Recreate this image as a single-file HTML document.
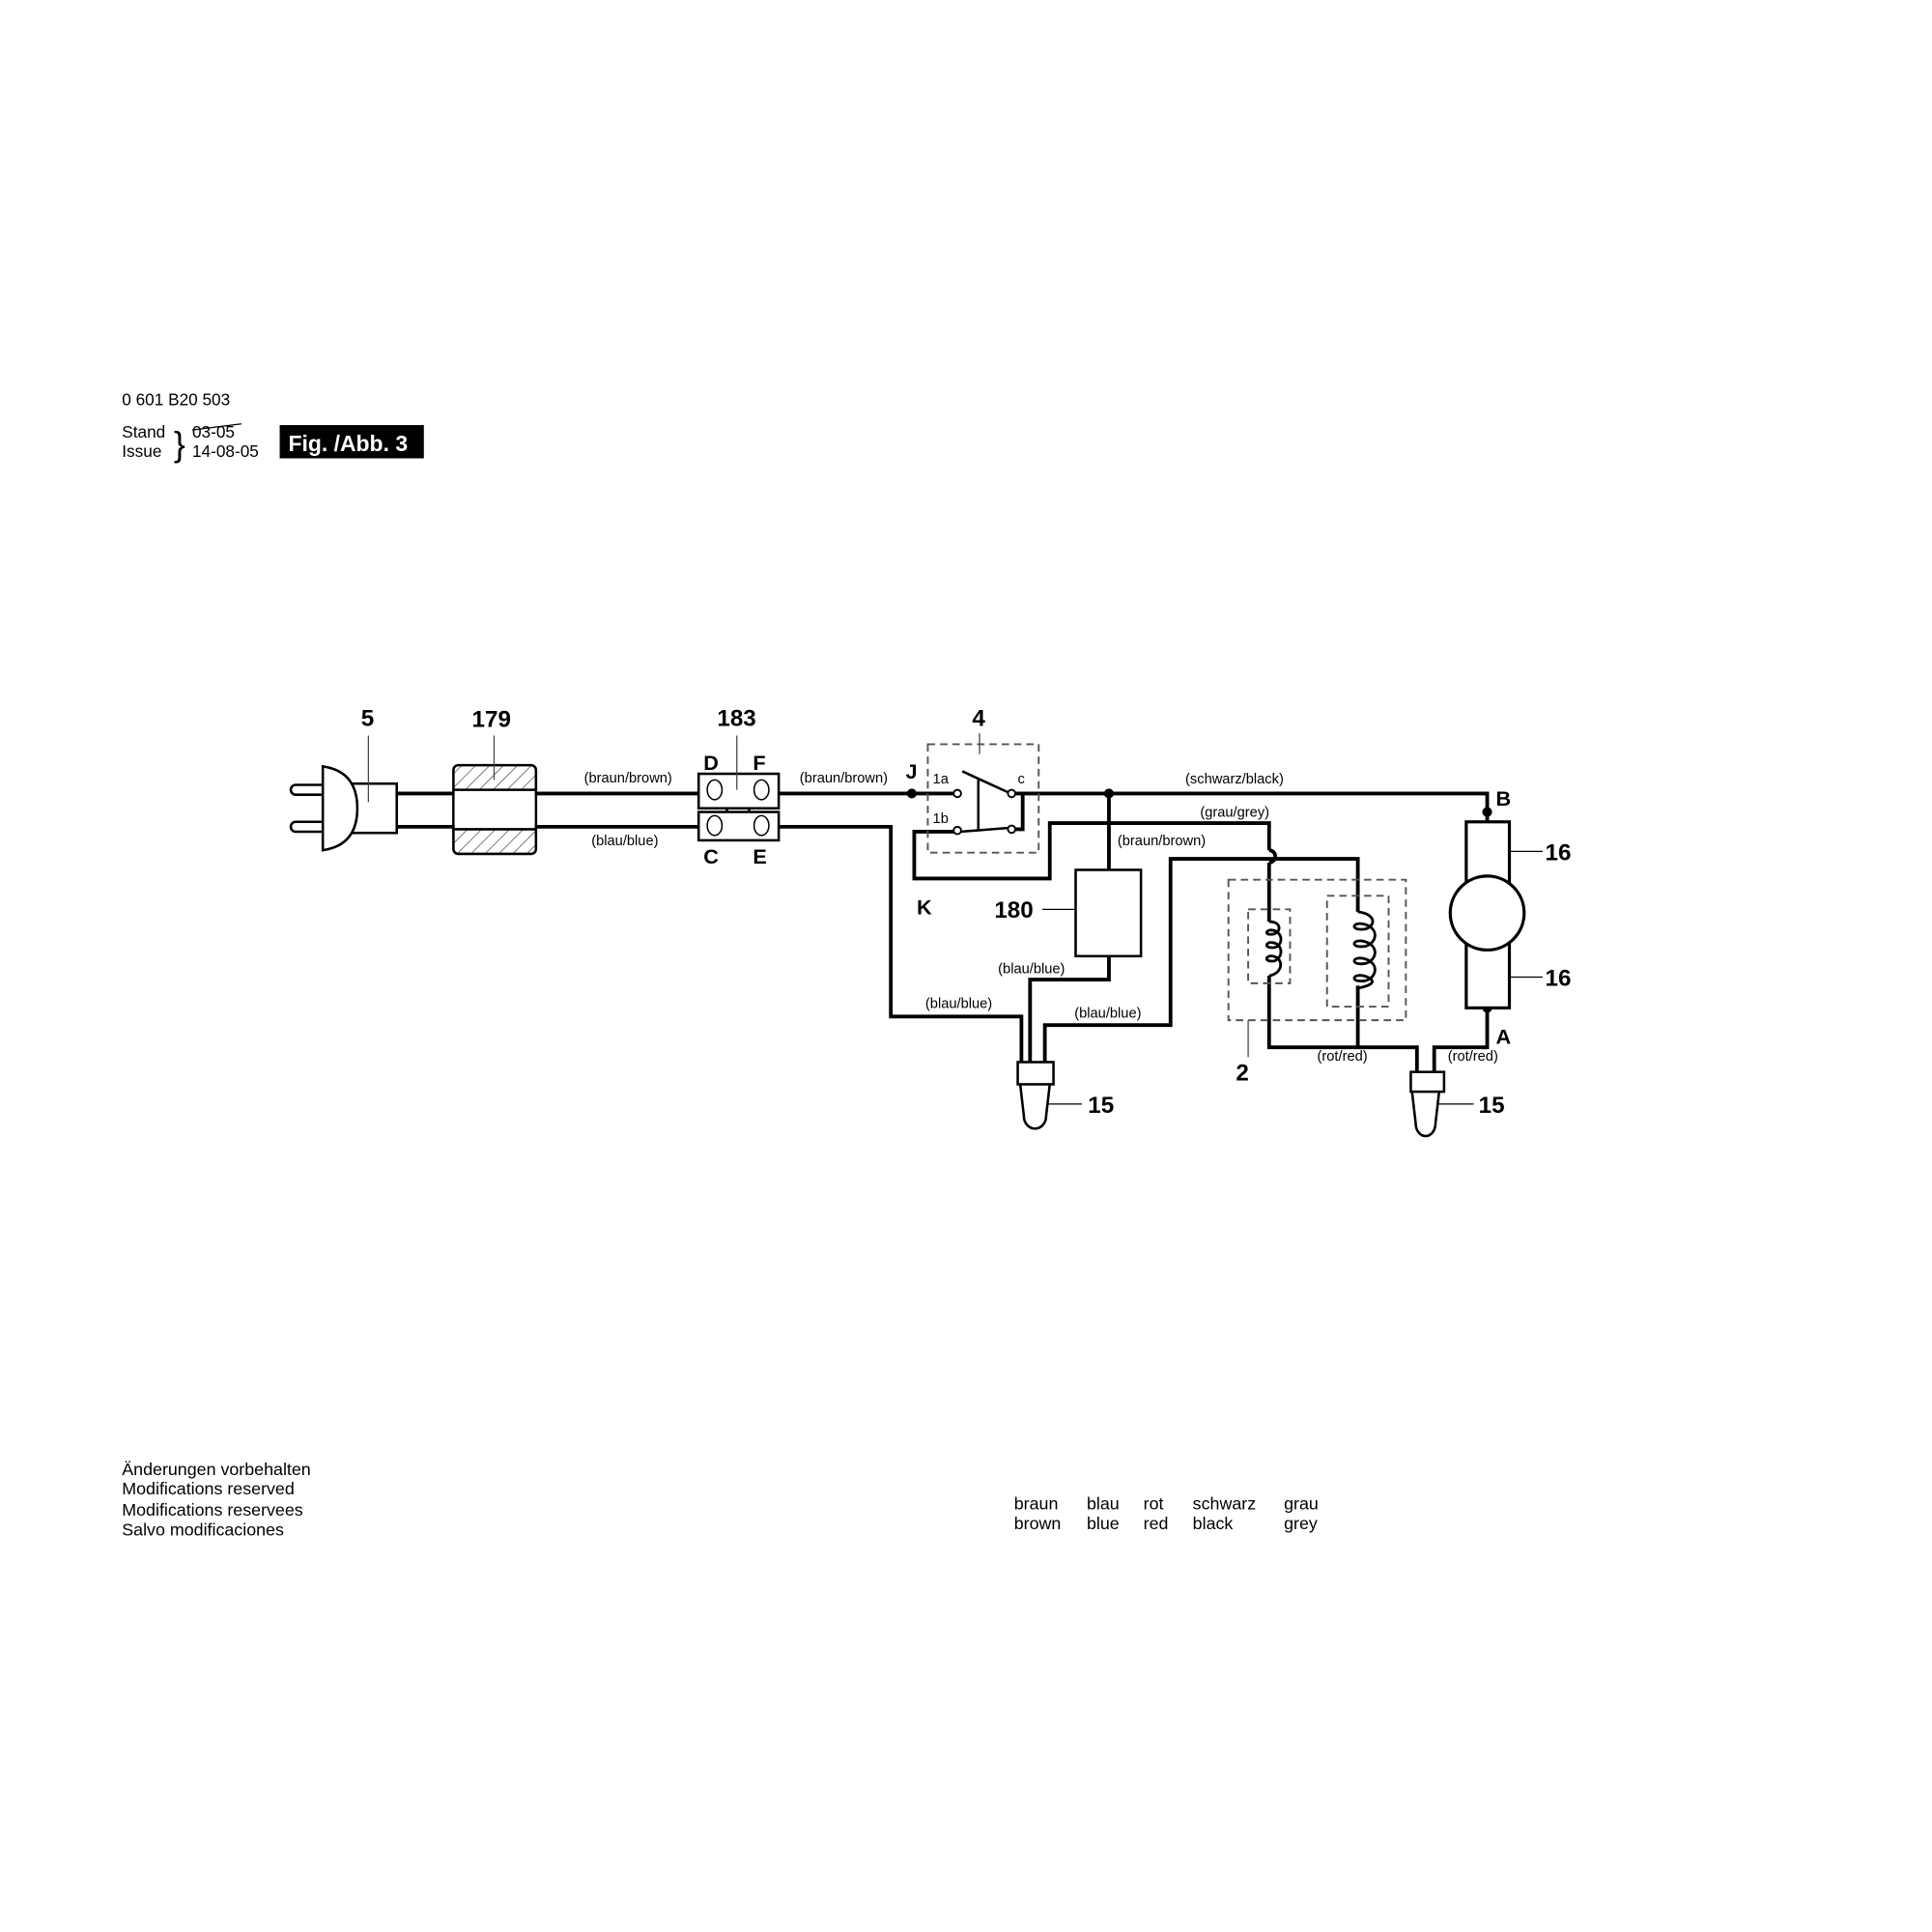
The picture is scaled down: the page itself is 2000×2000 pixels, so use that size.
<!DOCTYPE html>
<html><head><meta charset="utf-8"><style>
html,body{margin:0;padding:0;background:#fff}
svg{display:block}
text{font-family:"Liberation Sans",sans-serif;fill:#000}
</style></head><body>
<svg width="2000" height="2000" viewBox="0 0 1568 1568" xmlns="http://www.w3.org/2000/svg">
<defs>
<pattern id="h" width="8" height="8" patternUnits="userSpaceOnUse" patternTransform="rotate(45)">
<line x1="0" y1="0" x2="0" y2="8" stroke="#333" stroke-width="1"/>
</pattern>
</defs>
<!-- header -->
<text x="99" y="329" font-size="13.5">0 601 B20 503</text>
<text x="99" y="355" font-size="13.5">Stand</text>
<text x="99" y="371" font-size="13.5">Issue</text>
<text x="141" y="370" font-size="28">}</text>
<text x="156" y="355" font-size="13.5">03-05</text>
<line x1="156" y1="349" x2="196" y2="344" stroke="#000" stroke-width="1"/>
<text x="156" y="371" font-size="13.5">14-08-05</text>
<rect x="227" y="345" width="117" height="27" fill="#000"/>
<text x="234" y="366" font-size="18" font-weight="bold" style="fill:#fff">Fig. /Abb. 3</text>

<g fill="none" stroke="#000" stroke-width="3">
<polyline points="322,644 567,644"/>
<polyline points="322,671 567,671"/>
<polyline points="632,644 776,644"/>
<polyline points="632,671 723,671 723,825 829,825 829,862"/>
<polyline points="820,644 1207,644 1207,667"/>
<polyline points="820,673 830,673 830,644"/>
<polyline points="776,675 742,675 742,713 852,713 852,668 1030,668 1030,690"/>
<path d="M1030,690 a5,5 0 0 1 0,10"/>
<polyline points="1030,700 1030,748"/>
<polyline points="900,644 900,706"/>
<polyline points="900,776 900,795 836,795 836,862"/>
<polyline points="848,862 848,832 950,832 950,697 1102,697 1102,740"/>
<polyline points="1030,792 1030,850 1150,850 1150,870"/>
<polyline points="1102,800 1102,850"/>
<polyline points="1164,870 1164,850 1207,850 1207,818"/>
</g>
<!-- plug -->
<g fill="#fff" stroke="#000" stroke-width="2">
<path d="M262,637 L240,637 a4,4 0 0 0 0,8 L262,645"/>
<path d="M262,667 L240,667 a4,4 0 0 0 0,8 L262,675"/>
<rect x="285" y="636" width="37" height="40"/>
<path d="M262,622 Q290,626 290,656 Q290,686 262,690 Z"/>
<rect x="368" y="621" width="67" height="72" rx="4" fill="url(#h)"/>
<rect x="369" y="641" width="65" height="32" stroke="none"/>
<line x1="368" y1="641" x2="435" y2="641"/>
<line x1="368" y1="673" x2="435" y2="673"/>
<rect x="590" y="654" width="18" height="8"/>
<rect x="567" y="628" width="65" height="28"/>
<rect x="567" y="659" width="65" height="23"/>
</g>
<g fill="#fff" stroke="#000" stroke-width="1.2">
<ellipse cx="580" cy="641" rx="6" ry="8"/><ellipse cx="618" cy="641" rx="6" ry="8"/>
<ellipse cx="580" cy="670" rx="6" ry="8"/><ellipse cx="618" cy="670" rx="6" ry="8"/>
</g>
<g stroke="#444" stroke-width="1" fill="none">
<line x1="299" y1="597" x2="299" y2="651"/>
<line x1="401" y1="597" x2="401" y2="633"/>
<line x1="598" y1="597" x2="598" y2="641"/>
<line x1="795" y1="595" x2="795" y2="612"/>
<line x1="846" y1="738" x2="880" y2="738" stroke="#000"/>
<line x1="1013" y1="828" x2="1013" y2="858"/>
<line x1="1220" y1="691" x2="1252" y2="691" stroke="#000"/>
<line x1="1220" y1="793" x2="1252" y2="793" stroke="#000"/>
<line x1="840" y1="896" x2="878" y2="896" stroke="#000"/>
<line x1="1157" y1="896" x2="1196" y2="896" stroke="#000"/>
</g>
<g fill="none" stroke="#555" stroke-width="1.5" stroke-dasharray="6,4">
<rect x="753" y="604" width="90" height="88"/>
<rect x="997" y="714" width="144" height="114"/>
<rect x="1013" y="738" width="34" height="60"/>
<rect x="1077" y="727" width="50" height="90"/>
</g>
<g fill="none" stroke="#000" stroke-width="2">
<line x1="781" y1="626" x2="818" y2="643"/>
<line x1="794" y1="633" x2="794" y2="673"/>
<line x1="779" y1="675" x2="818" y2="672"/>
</g>
<g fill="#fff" stroke="#000" stroke-width="1.5">
<circle cx="777" cy="644" r="3"/><circle cx="821" cy="644" r="3"/>
<circle cx="777" cy="674" r="3"/><circle cx="821" cy="673" r="3"/>
</g>
<circle cx="740" cy="644" r="4"/><circle cx="900" cy="644" r="4"/>
<circle cx="1207" cy="659" r="4"/><circle cx="1207" cy="818" r="4"/>
<rect x="873" y="706" width="53" height="70" fill="#fff" stroke="#000" stroke-width="2"/>
<!-- coils -->
<g fill="none" stroke="#000" stroke-width="2.2">
<path d="M1030,748 C1040,748 1040,756 1034,758 C1024,760 1028,752 1036,756 C1042,760 1040,768 1034,769 C1024,770 1028,762 1036,766 C1042,770 1040,778 1034,780 C1024,781 1028,773 1036,777 C1042,781 1040,790 1030,792"/>
<path d="M1102,740 C1118,742 1116,752 1108,754 C1094,756 1098,746 1110,751 C1120,756 1116,766 1108,768 C1094,770 1098,760 1110,765 C1120,770 1116,780 1108,782 C1094,784 1098,774 1110,779 C1120,784 1116,794 1108,796 C1094,798 1098,788 1110,793 C1118,797 1112,800 1102,802"/>
</g>
<rect x="1190" y="667" width="35" height="151" fill="#fff" stroke="#000" stroke-width="2.5"/>
<ellipse cx="1207" cy="741" rx="30" ry="30" fill="#fff" stroke="#000" stroke-width="2.5"/>
<g fill="#fff" stroke="#000" stroke-width="2">
<path d="M828,880 L831,906 a9,10 0 0 0 18,0 L852,880"/>
<rect x="826" y="862" width="29" height="18"/>
<path d="M1146,886 L1149,912 a8,10 0 0 0 16,0 L1168,886"/>
<rect x="1145" y="870" width="27" height="16"/>
</g>
<g font-size="19" font-weight="bold">
<text x="293" y="589">5</text>
<text x="383" y="590">179</text>
<text x="582" y="589">183</text>
<text x="789" y="589">4</text>
<text x="571" y="625" font-size="17">D</text>
<text x="611" y="625" font-size="17">F</text>
<text x="571" y="701" font-size="17">C</text>
<text x="611" y="701" font-size="17">E</text>
<text x="735" y="632" font-size="17">J</text>
<text x="744" y="742" font-size="17">K</text>
<text x="807" y="745">180</text>
<text x="1214" y="654" font-size="17">B</text>
<text x="1214" y="847" font-size="17">A</text>
<text x="1254" y="698">16</text>
<text x="1254" y="800">16</text>
<text x="883" y="903">15</text>
<text x="1200" y="903">15</text>
<text x="1003" y="877">2</text>
</g>
<g font-size="11.5">
<text x="757" y="636">1a</text>
<text x="757" y="668">1b</text>
<text x="826" y="636">c</text>
<text x="474" y="635">(braun/brown)</text>
<text x="649" y="635">(braun/brown)</text>
<text x="480" y="686">(blau/blue)</text>
<text x="962" y="636">(schwarz/black)</text>
<text x="974" y="663">(grau/grey)</text>
<text x="907" y="686">(braun/brown)</text>
<text x="810" y="790">(blau/blue)</text>
<text x="751" y="818">(blau/blue)</text>
<text x="872" y="826">(blau/blue)</text>
<text x="1069" y="861">(rot/red)</text>
<text x="1175" y="861">(rot/red)</text>
</g>
<g font-size="14">
<text x="99" y="1197">Änderungen vorbehalten</text>
<text x="99" y="1213">Modifications reserved</text>
<text x="99" y="1230">Modifications reservees</text>
<text x="99" y="1246">Salvo modificaciones</text>
<text x="823" y="1225">braun</text><text x="882" y="1225">blau</text><text x="928" y="1225">rot</text><text x="968" y="1225">schwarz</text><text x="1042" y="1225">grau</text>
<text x="823" y="1241">brown</text><text x="882" y="1241">blue</text><text x="928" y="1241">red</text><text x="968" y="1241">black</text><text x="1042" y="1241">grey</text>
</g>
</svg>
</body></html>
